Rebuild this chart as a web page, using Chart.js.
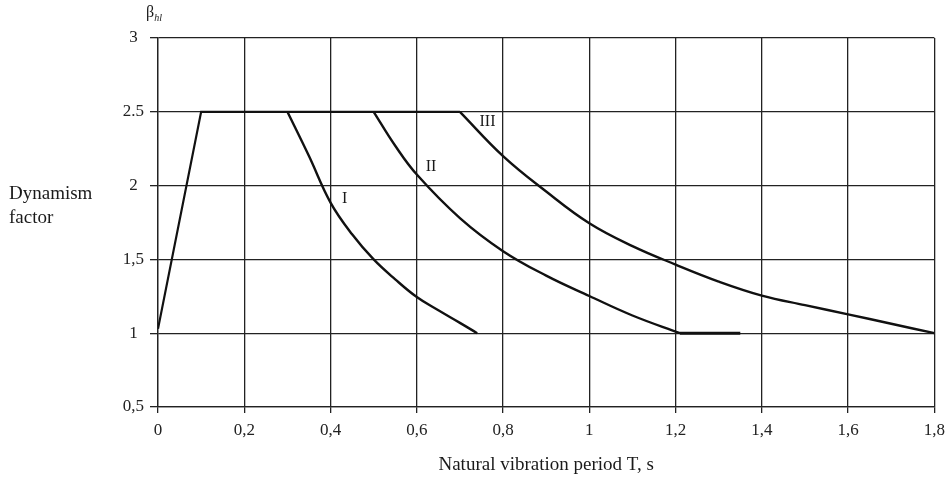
<!DOCTYPE html>
<html><head><meta charset="utf-8">
<script src="https://cdn.jsdelivr.net/npm/chart.js@4"></script>
<style>
html,body{margin:0;padding:0;background:#fff;}
#wrap{position:relative;width:952px;height:480px;background:#fff;}
canvas{position:absolute;left:0;top:0;}
.lbl{position:absolute;font-family:"Liberation Serif","Times New Roman",serif;color:#1a1a1a;white-space:nowrap;}
</style></head><body>
<div id="wrap">
<canvas id="c" width="952" height="480"></canvas>
<div class="lbl" style="left:9px;top:181px;font-size:19px;line-height:24px;">Dynamism<br>factor</div>
<div class="lbl" style="left:146px;top:3px;font-size:16px;">β<sub style="font-style:italic;font-size:10px;">hl</sub></div>
</div>
<script>
// ---- data ----
const envelopeT = [0, 0.1, 0.7];
const envelopeB = [1.03, 2.5, 2.5];
const curveI_T = [0.3, 0.35, 0.4, 0.45, 0.5, 0.55, 0.6, 0.65, 0.7, 0.74];
const curveI_B = [2.5, 2.2, 1.885, 1.67, 1.5, 1.365, 1.245, 1.155, 1.07, 1.0];
const curveII_T = [0.5, 0.55, 0.6, 0.7, 0.8, 0.9, 1.0, 1.1, 1.21];
const curveII_B = [2.5, 2.27, 2.075, 1.78, 1.556, 1.39, 1.252, 1.12, 1.0];
const curveIItail_T = [1.21, 1.35];
const curveIItail_B = [1.0, 1.0];
const curveIII_T = [0.7, 0.8, 0.9, 1.0, 1.1, 1.2, 1.3, 1.4, 1.5, 1.6, 1.7, 1.8];
const curveIII_B = [2.5, 2.2, 1.96, 1.745, 1.59, 1.465, 1.35, 1.255, 1.19, 1.128, 1.064, 1.0];
const xTickValues = [0, 0.2, 0.4, 0.6, 0.8, 1.0, 1.2, 1.4, 1.6, 1.8];
const xTickLabels = ['0','0,2','0,4','0,6','0,8','1','1,2','1,4','1,6','1,8'];
const yTickValues = [0.5, 1, 1.5, 2, 2.5, 3];
const yTickLabels = ['0,5','1','1,5','2','2.5','3'];
const curveNames = ['I','II','III'];
const nameT = [0.433, 0.633, 0.764];
const nameB = [1.91, 2.13, 2.43];
const xTitle = 'Natural vibration period T, s';

const FAMILY = '"Liberation Serif", "Times New Roman", serif';
const toXY = (t, b) => t.map((x, i) => ({x: x, y: b[i]}));
const lineDs = (data, w, tension) => ({data: data, borderColor: '#111', borderWidth: w, pointRadius: 0,
  fill: false, tension: tension});

const namePlugin = {
  id: 'names',
  afterDatasetsDraw(chart) {
    const {ctx, scales: {x, y}} = chart;
    ctx.save();
    ctx.font = '16px ' + FAMILY;
    ctx.fillStyle = '#1a1a1a';
    ctx.textAlign = 'center';
    ctx.textBaseline = 'middle';
    curveNames.forEach((n, i) => ctx.fillText(n, x.getPixelForValue(nameT[i]), y.getPixelForValue(nameB[i])));
    ctx.restore();
  }
};

new Chart(document.getElementById('c'), {
  type: 'line',
  data: {datasets: [
    lineDs(toXY(envelopeT, envelopeB), 2.2, 0),
    lineDs(toXY(curveI_T, curveI_B), 2.4, 0.4),
    lineDs(toXY(curveII_T, curveII_B), 2.4, 0.4),
    lineDs(toXY(curveIItail_T, curveIItail_B), 3, 0),
    lineDs(toXY(curveIII_T, curveIII_B), 2.4, 0.4)
  ]},
  options: {
    responsive: false, animation: false, events: [],
    layout: {padding: {top: 38, right: 16, left: 0, bottom: 0}},
    plugins: {legend: {display: false}, tooltip: {enabled: false}},
    scales: {
      x: {
        type: 'linear', min: 0, max: 1.8,
        afterBuildTicks: s => { s.ticks = xTickValues.map(v => ({value: v})); },
        afterFit: s => { s.height = 73; },
        ticks: {callback: (v, i) => xTickLabels[i], font: {family: FAMILY, size: 17}, color: '#222',
                padding: 7, maxRotation: 0, autoSkip: false},
        grid: {color: '#222', lineWidth: 1.3, tickLength: 6},
        border: {color: '#222', width: 1.3},
        title: {display: true, text: xTitle, font: {family: FAMILY, size: 19}, color: '#1a1a1a',
                padding: {top: 0, bottom: 4}}
      },
      y: {
        type: 'linear', min: 0.5, max: 3,
        afterBuildTicks: s => { s.ticks = yTickValues.map(v => ({value: v})); },
        afterFit: s => { s.width = 158; },
        ticks: {callback: (v, i) => yTickLabels[i], font: {family: FAMILY, size: 17}, color: '#222',
                padding: 6, crossAlign: 'center', autoSkip: false},
        grid: {color: '#222', lineWidth: 1.3, tickLength: 8},
        border: {color: '#222', width: 1.3}
      }
    }
  },
  plugins: [namePlugin]
});
</script>
</body></html>
